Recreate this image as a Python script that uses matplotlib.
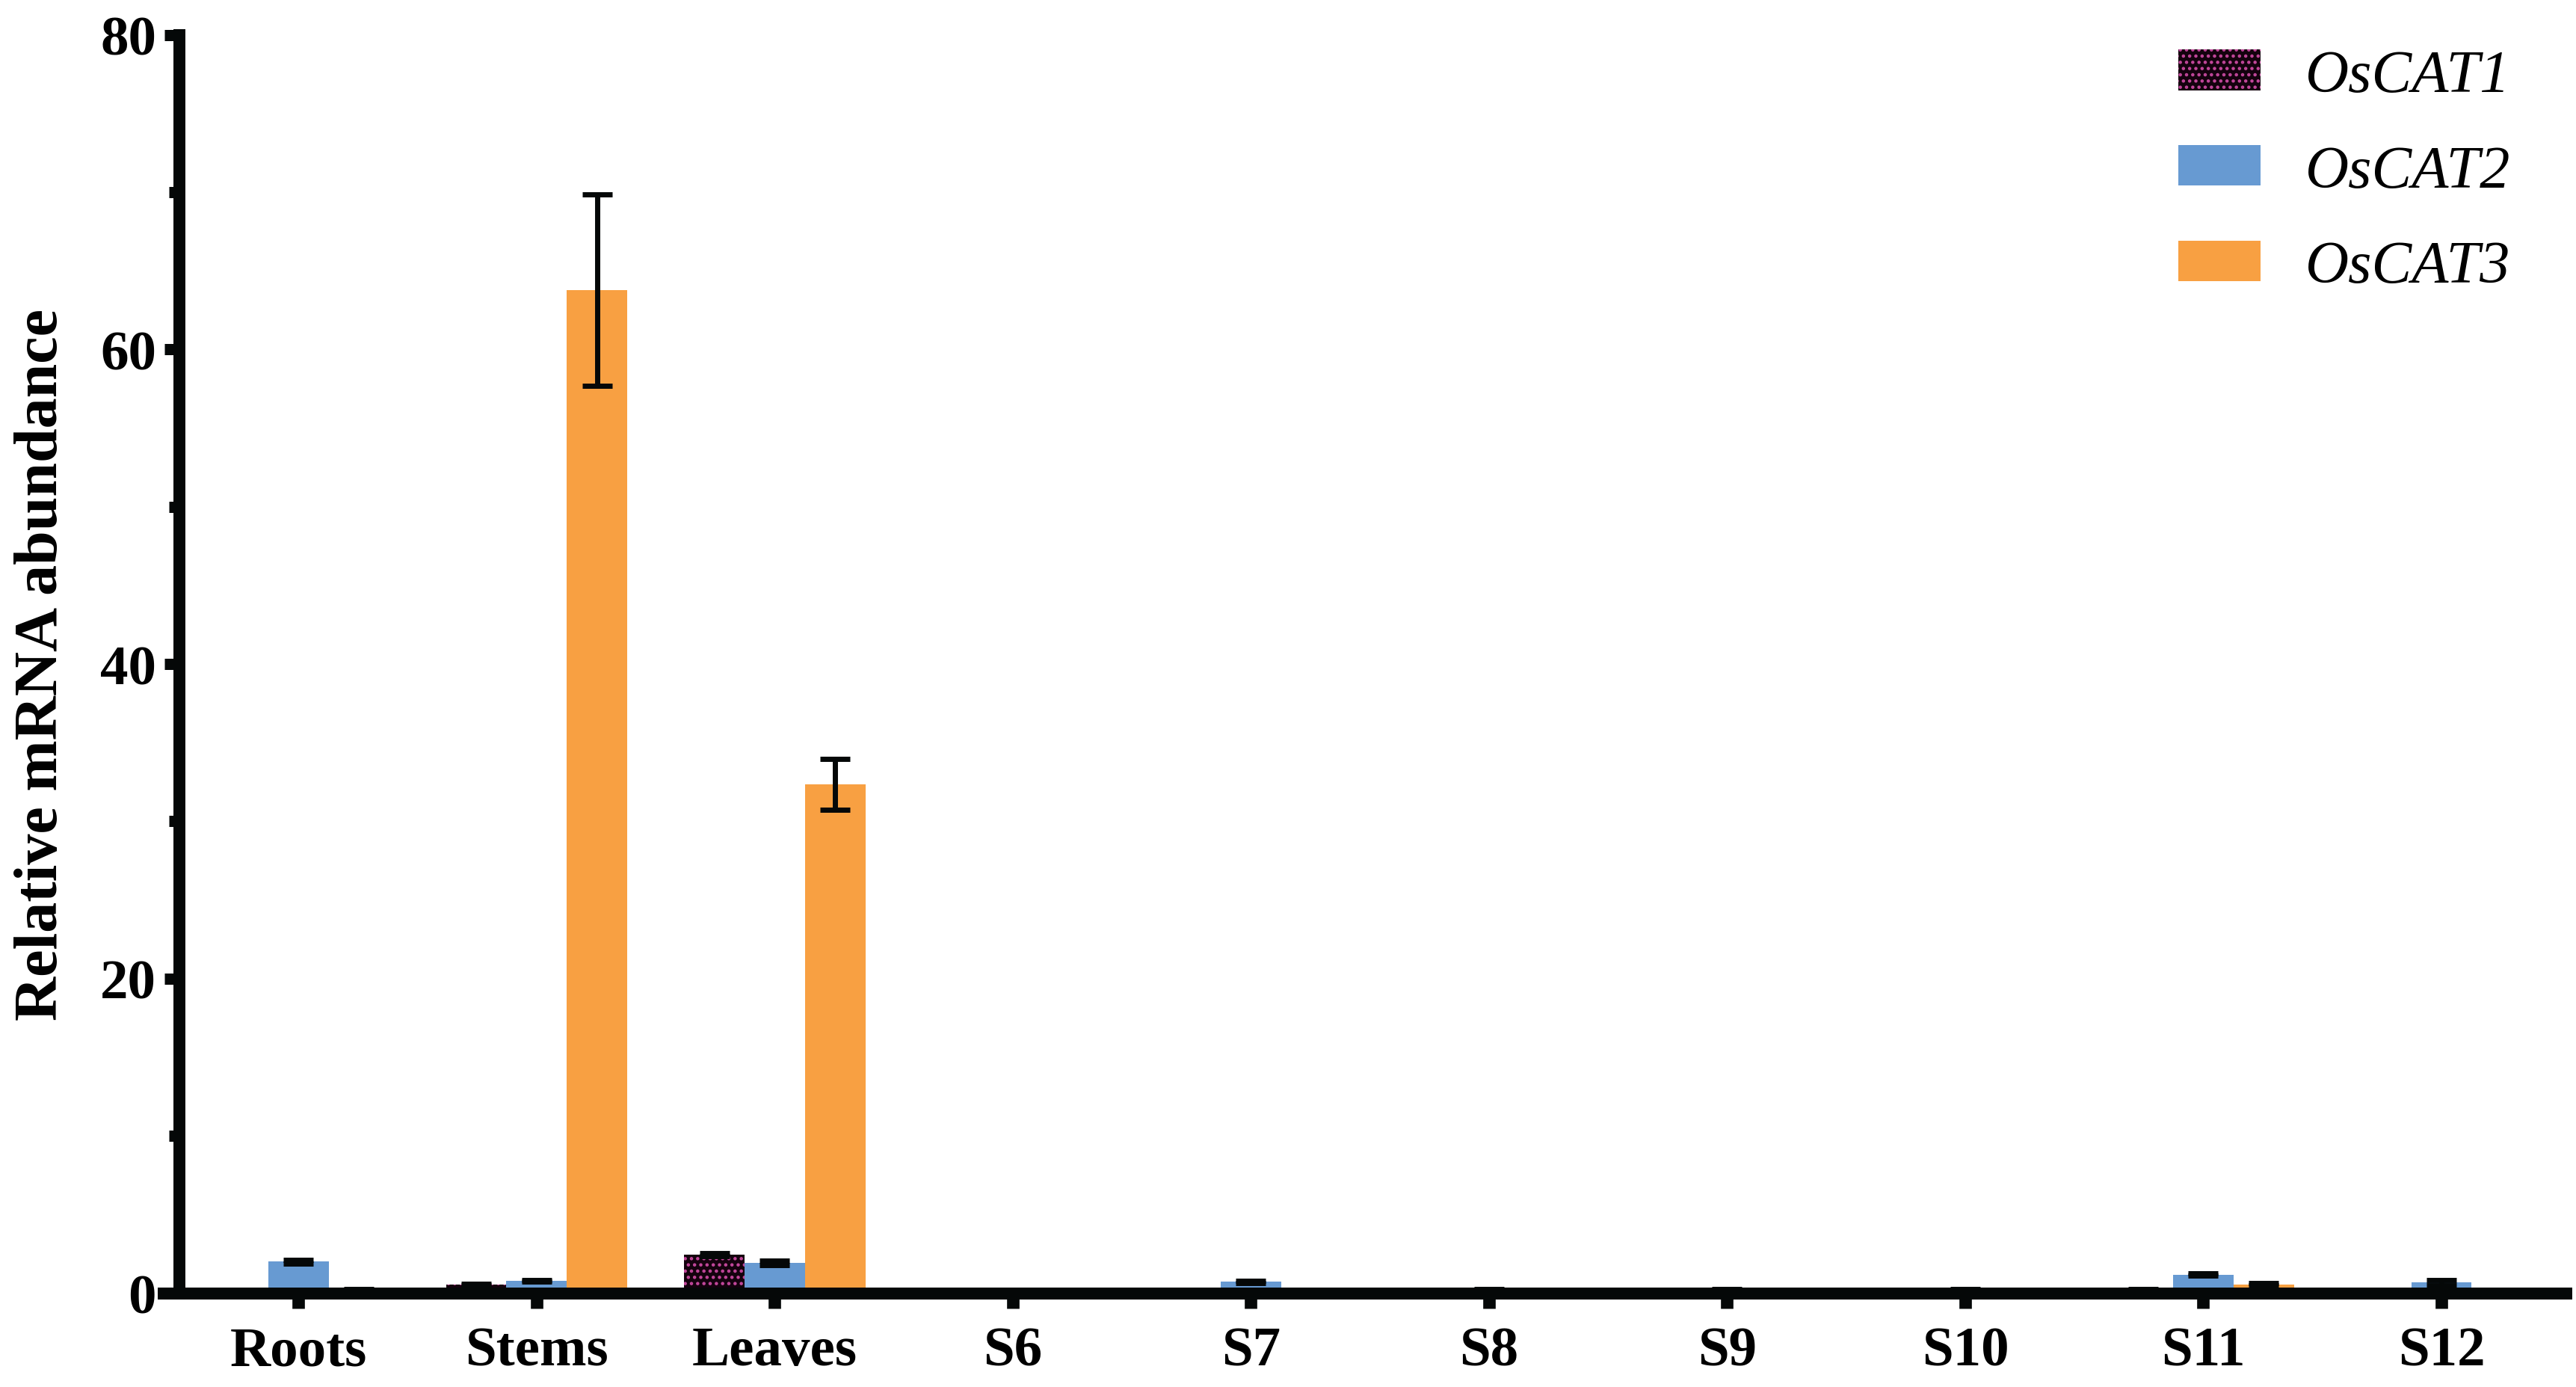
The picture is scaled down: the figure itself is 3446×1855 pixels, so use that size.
import numpy as np
import matplotlib
matplotlib.use('Agg')
import matplotlib.pyplot as plt
from matplotlib.patches import Patch

# tissues / stages on the x axis
categories = ['Roots', 'Stems', 'Leaves', 'S6', 'S7', 'S8', 'S9', 'S10', 'S11', 'S12']
genes = ['OsCAT1', 'OsCAT2', 'OsCAT3']

# relative mRNA abundance (mean, error)
cat1 = [0.05, 0.55, 2.45, 0.02, 0.03, 0.03, 0.03, 0.03, 0.17, 0.03]
cat1_err = [0.02, 0.06, 0.08, 0.01, 0.01, 0.01, 0.01, 0.01, 0.08, 0.01]
cat2 = [2.0, 0.78, 1.92, 0.03, 0.72, 0.17, 0.17, 0.17, 1.18, 0.68]
cat2_err = [0.14, 0.05, 0.13, 0.01, 0.08, 0.08, 0.08, 0.08, 0.08, 0.17]
cat3 = [0.17, 63.76, 32.34, 0.02, 0.03, 0.03, 0.03, 0.03, 0.55, 0.03]
cat3_err = [0.08, 6.08, 1.61, 0.01, 0.01, 0.01, 0.01, 0.01, 0.07, 0.01]

yticks = [0, 20, 40, 60, 80]

plt.rcParams['font.family'] = ['Liberation Serif', 'DejaVu Serif']
plt.rcParams['hatch.linewidth'] = 2.0

blue = '#679ad2'
orange = '#f8a042'
dark = '#14020e'
pink = '#c4479c'
ink = '#050808'

fig = plt.figure(figsize=(34.46, 18.56), dpi=100)
ax = fig.add_axes([0.0636, 0.0676, 0.9326, 0.9068])

x = np.arange(len(categories))
w = 0.254
ekw = dict(elinewidth=5, capsize=14.4, capthick=5, ecolor=ink)

ax.bar(x - w, cat1, w, yerr=cat1_err, color=dark, edgecolor=pink, hatch='..',
       linewidth=0, error_kw=ekw)
ax.bar(x, cat2, w, yerr=cat2_err, color=blue, linewidth=0, error_kw=ekw)
ax.bar(x + w, cat3, w, yerr=cat3_err, color=orange, linewidth=0, error_kw=ekw)

ax.set_xlim(-0.566, 9.524)
ax.set_ylim(0, 80)
ax.spines['left'].set_position(('data', -0.5))
ax.spines['left'].set_bounds(0, 80)
for s in ['top', 'right']:
    ax.spines[s].set_visible(False)
for s in ['left', 'bottom']:
    ax.spines[s].set_linewidth(11.5)
    ax.spines[s].set_color(ink)
    ax.spines[s].set_zorder(3)

ax.set_xticks(x)
ax.set_xticklabels(categories, fontsize=54, fontweight='bold')
ax.set_yticks(yticks)
ax.set_yticklabels([str(v) for v in yticks], fontsize=54, fontweight='bold')
ax.set_yticks([10, 30, 50, 70], minor=True)
ax.tick_params(axis='x', length=14.4, width=12, color=ink, pad=17)
ax.tick_params(axis='y', which='major', length=14.4, width=10.8, color=ink, pad=8)
ax.tick_params(axis='y', which='minor', length=10, width=10.8, color=ink)

ax.set_ylabel('Relative mRNA abundance', fontsize=59, fontweight='bold', labelpad=29)

handles = [Patch(facecolor=dark, edgecolor=pink, hatch='..', linewidth=0),
           Patch(facecolor=blue, linewidth=0),
           Patch(facecolor=orange, linewidth=0)]
fig.legend(handles, genes, loc='upper left', bbox_to_anchor=(0.8456, 0.964),
           frameon=False, borderpad=0, borderaxespad=0,
           prop={'size': 58, 'style': 'italic'},
           handlelength=1.365, handleheight=0.66, handletextpad=0.74,
           labelspacing=0.68)

fig.savefig('out.png', dpi=100)
